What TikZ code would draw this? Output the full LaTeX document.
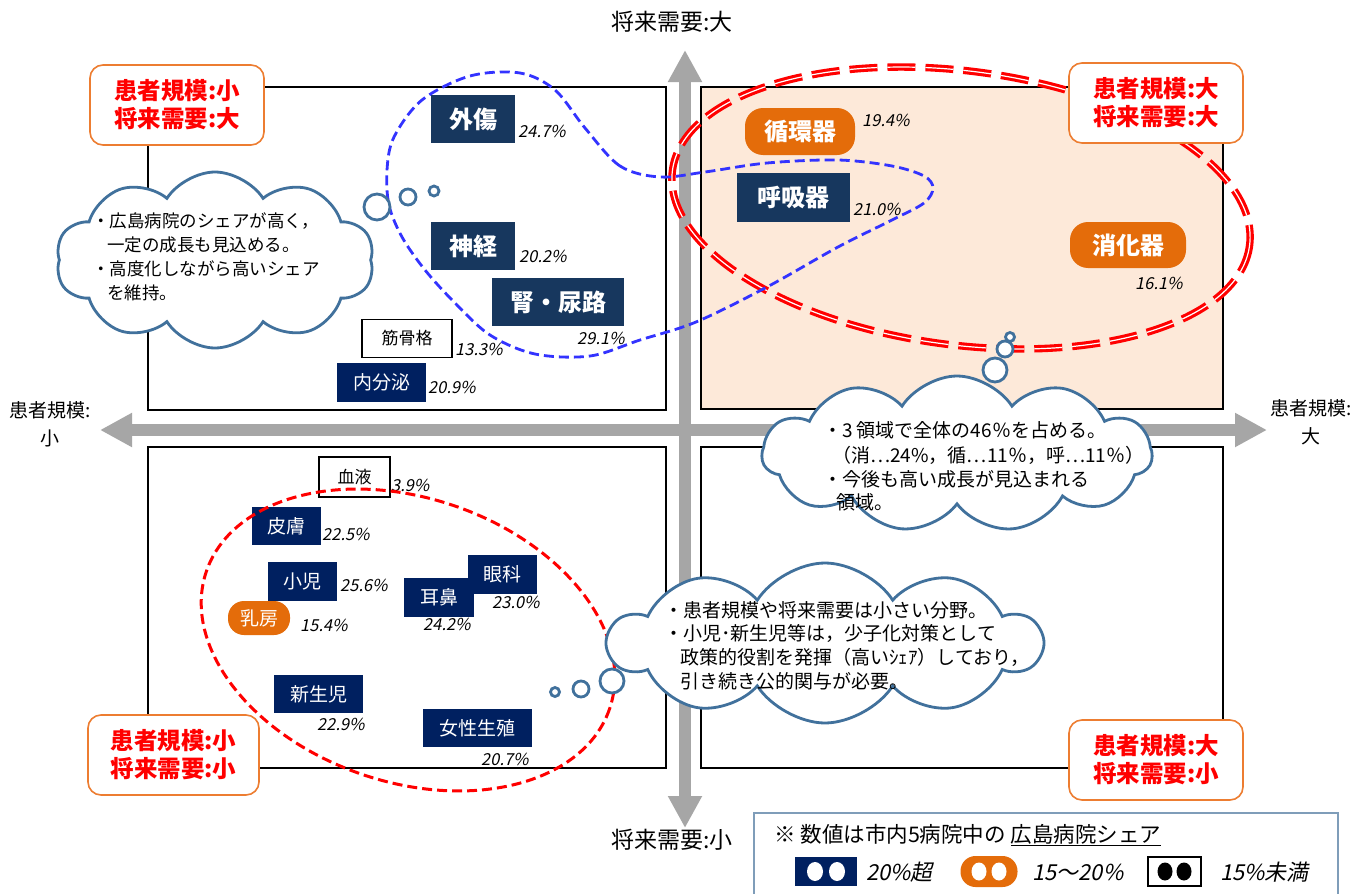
\documentclass[tikz,border=0pt]{standalone}
\usepackage{fontspec}
\setmainfont{Noto Sans CJK JP}
\newfontfamily\slantfont{Noto Sans CJK JP}[FakeSlant=0.2]
\usetikzlibrary{shapes.symbols,arrows.meta}
\definecolor{navyA}{RGB}{23,55,94}
\definecolor{navyB}{RGB}{0,32,96}
\definecolor{orgA}{RGB}{228,108,10}
\definecolor{orgB}{RGB}{237,125,49}
\definecolor{peach}{RGB}{253,233,217}
\definecolor{cloudc}{RGB}{65,113,156}
\definecolor{axisg}{RGB}{166,166,166}
\definecolor{blued}{RGB}{51,51,255}
\definecolor{legb}{RGB}{127,157,185}
\tikzset{
 quad/.style={draw=black,line width=1.6pt},
 cornerbox/.style={draw=orgB,line width=1.6pt,rounded corners=13pt,fill=white,text=red,font=\fontsize{23.5}{28}\selectfont\bfseries,align=center,minimum width=174,minimum height=80,inner sep=0},
 bigbox/.style={fill=navyA,text=white,font=\fontsize{24}{28}\selectfont\bfseries,inner sep=0},
 orgbox/.style={fill=orgA,text=white,font=\fontsize{24}{28}\selectfont\bfseries,inner sep=0,rounded corners=18pt},
 orgsmall/.style={fill=orgA,text=white,font=\fontsize{19}{22}\selectfont,inner sep=0,rounded corners=16pt},
 smallbox/.style={fill=navyB,text=white,font=\fontsize{19}{22}\selectfont,inner sep=0},
 whitebox/.style={draw=black,line width=1.3pt,fill=white,text=black,font=\fontsize{17}{20}\selectfont,inner sep=0},
 pct/.style={font=\slantfont\fontsize{16.5}{18}\selectfont,inner sep=0,anchor=west},
 axisarrow/.style={draw=axisg,line width=12pt,{Triangle[width=32pt,length=32pt]}-{Triangle[width=32pt,length=32pt]}},
 axislbl/.style={font=\fontsize{19}{28}\selectfont,align=center,inner sep=0},
 axislblv/.style={font=\fontsize{23}{28}\selectfont,inner sep=0},
 cloudst/.style={cloud,draw=cloudc,line width=2.8pt,fill=white,cloud puffs=10,cloud puff arc=115,cloud ignores aspect,inner sep=0},
 bubble/.style={circle,draw=cloudc,line width=2.8pt,fill=white,inner sep=0},
 cltxt/.style={font=\fontsize{17.5}{24}\selectfont,inner sep=0,anchor=west},
 cltxtb/.style={font=\fontsize{19}{24}\selectfont,inner sep=0,anchor=west},
 redd/.style={draw=red,line width=3.1pt,double=white,double distance=1.2pt,dash pattern=on 28pt off 10pt},
 redb/.style={draw=red,line width=3pt,dash pattern=on 10pt off 5pt},
 bluep/.style={draw=blued,line width=2.8pt,dash pattern=on 10pt off 5pt},
 legtxt/.style={font=\fontsize{21.5}{24}\selectfont,inner sep=0,anchor=west},
 legpct/.style={font=\slantfont\fontsize{22}{24}\selectfont,inner sep=0,anchor=west}
}
\begin{document}
\begin{tikzpicture}[x=1pt,y=-1pt]
\useasboundingbox (0,0) rectangle (1363,894);
\fill[white] (0,0) rectangle (1363,894);
% quadrants
\fill[peach] (701,87) rectangle (1223,409);
\draw[quad] (148,87) rectangle (666,410);
\draw[quad] (701,87) rectangle (1223,409);
\draw[quad] (148,447) rectangle (666,768);
\draw[quad] (701,447) rectangle (1223,768);
% axes
\coordinate (vT) at (685,50);
\coordinate (vB) at (685,828);
\coordinate (hL) at (100,430);
\coordinate (hR) at (1267,430);
\draw[axisarrow] (vB) -- (vT);
\draw[axisarrow] (hL) -- (hR);
% TL items
\node[bigbox,minimum width=84,minimum height=48] (gaisho) at (473,119) {外傷};
\node[pct] (gaishoP) at (518,131) {24.7\%};
\node[bigbox,minimum width=84,minimum height=48] (shinkei) at (473,246) {神経};
\node[pct] (shinkeiP) at (519,256) {20.2\%};
\node[bigbox,minimum width=132,minimum height=48] (jin) at (558,302) {腎・尿路};
\node[pct] (jinP) at (577,338) {29.1\%};
\node[whitebox,minimum width=90,minimum height=38] (kin) at (407,338.5) {筋骨格};
\node[pct] (kinP) at (455,349) {13.3\%};
\node[smallbox,minimum width=89,minimum height=39] (naibun) at (381.5,382.5) {内分泌};
\node[pct] (naibunP) at (428,387) {20.9\%};
% TR items
\node[orgbox,minimum width=110,minimum height=47] (junkan) at (800,131.5) {循環器};
\node[pct] (junkanP) at (862,120) {19.4\%};
\node[bigbox,minimum width=113,minimum height=49] (kokyu) at (793.5,197.5) {呼吸器};
\node[pct] (kokyuP) at (853,209) {21.0\%};
\node[orgbox,minimum width=116,minimum height=46] (shoka) at (1128,245) {消化器};
\node[pct] (shokaP) at (1135,283) {16.1\%};
% BL items
\node[whitebox,minimum width=71,minimum height=40] (ketsu) at (354.5,477) {血液};
\node[pct] (ketsuP) at (391,485) {3.9\%};
\node[smallbox,minimum width=69,minimum height=38] (hifu) at (286.5,526) {皮膚};
\node[pct] (hifuP) at (322,534) {22.5\%};
\node[smallbox,minimum width=69,minimum height=39] (shoni) at (302.5,581.5) {小児};
\node[pct] (shoniP) at (340,585) {25.6\%};
\node[orgsmall,minimum width=62,minimum height=34] (nyubo) at (259,618) {乳房};
\node[pct] (nyuboP) at (300,625) {15.4\%};
\node[smallbox,minimum width=70,minimum height=39] (jibi) at (439,597.5) {耳鼻};
\node[smallbox,minimum width=69,minimum height=39] (ganka) at (502.5,574.5) {眼科};
\node[pct] (jibiP) at (423,624) {24.2\%};
\node[pct] (gankaP) at (492,602) {23.0\%};
\node[smallbox,minimum width=89,minimum height=38] (shinsei) at (318.5,694) {新生児};
\node[pct] (shinseiP) at (317,724) {22.9\%};
\node[smallbox,minimum width=109,minimum height=38] (josei) at (477.5,728) {女性生殖};
\node[pct] (joseiP) at (481,759) {20.7\%};
% ellipses and blue outline
\draw[redb,rotate around={-18.8:(408,640)}] (408,640) ellipse [x radius=213,y radius=142];
\draw[redd,rotate around={-7.4:(961,208)}] (961,208) ellipse [x radius=291,y radius=137];
\draw[bluep] plot[smooth cycle,tension=0.55] coordinates {(660,177) (620,166) (585,128) (555,90) (520,73) (470,76) (422,100) (394,137) (387,170) (389,205) (402,237) (425,270) (455,303) (490,335) (535,354) (590,356) (640,340) (696,322) (767,287) (838,247) (892,220) (924,203) (933,188) (924,176) (892,166) (838,160) (767,163) (705,172)};
% corner labels
\node[cornerbox] (cTL) at (177,105) {患者規模:小\\将来需要:大};
\node[cornerbox] (cTR) at (1156,103) {患者規模:大\\将来需要:大};
\node[cornerbox,minimum width=171] (cBL) at (173.5,755) {患者規模:小\\将来需要:小};
\node[cornerbox] (cBR) at (1156,760) {患者規模:大\\将来需要:小};
% left cloud
\node[cloudst,minimum width=318,minimum height=176] (cloudL) at (215,260) {};
\node[bubble,minimum size=26] (bL1) at (377,207) {};
\node[bubble,minimum size=16] (bL2) at (408,197) {};
\node[bubble,minimum size=10] (bL3) at (434,191) {};
\node[cltxt] (tL1) at (92,221) {・広島病院のシェアが高く，};
\node[cltxt] (tL2) at (107,245) {一定の成長も見込める。};
\node[cltxt] (tL3) at (92,269) {・高度化しながら高いシェア};
\node[cltxt] (tL4) at (107,293) {を維持。};
% right cloud
\node[cloudst,cloud puffs=11,shape border rotate=28,minimum width=390,minimum height=156] (cloudR) at (957,454) {};
\node[bubble,minimum size=24] (bR1) at (995,370) {};
\node[bubble,minimum size=16] (bR2) at (1005,349) {};
\node[bubble,minimum size=9] (bR3) at (1010,337) {};
\node[cltxtb] (tR1) at (823,430) {・3 領域で全体の46％を占める。};
\node[cltxtb] (tR2) at (832,455) {（消…24\%，循…11％，呼…11％）};
\node[cltxtb] (tR3) at (823,479) {・今後も高い成長が見込まれる};
\node[cltxtb] (tR4) at (836,502) {領域。};
% bottom cloud
\node[cloudst,minimum width=432,minimum height=160] (cloudB) at (825,643) {};
\node[bubble,minimum size=24] (bB1) at (612,681) {};
\node[bubble,minimum size=16] (bB2) at (581,689) {};
\node[bubble,minimum size=9] (bB3) at (555,692) {};
\node[cltxtb] (tB1) at (664,610) {・患者規模や将来需要は小さい分野。};
\node[cltxtb] (tB2) at (664,633) {・小児･新生児等は，少子化対策として};
\node[cltxtb] (tB3) at (680,657) {政策的役割を発揮（高いｼｪｱ）しており，};
\node[cltxtb] (tB4) at (680,681) {引き続き公的関与が必要。};
% axis labels
\node[axislblv] (axT) at (672,22) {将来需要:大};
\node[axislblv] (axB) at (672,840) {将来需要:小};
\node[axislbl] (axL) at (50,424) {患者規模:\\小};
\node[axislbl] (axR) at (1311,422) {患者規模:\\大};
% legend
\draw[draw=legb,line width=1.6pt,fill=white] (754,813) rectangle (1338,900);
\node[legtxt] (leg1) at (774,835) {※ 数値は市内5病院中の \underline{広島病院シェア}};
\node[fill=navyB,minimum width=62,minimum height=29,inner sep=0] (legN) at (826,871.5) {};
\fill[white] (815,871.5) ellipse [x radius=8,y radius=9.5];
\fill[white] (837,871.5) ellipse [x radius=8,y radius=9.5];
\node[legpct] (legNt) at (866,872) {20\%超};
\node[fill=orgA,rounded corners=15pt,minimum width=57,minimum height=31,inner sep=0] (legO) at (989,871.5) {};
\fill[white] (979,871.5) ellipse [x radius=7.5,y radius=9];
\fill[white] (999,871.5) ellipse [x radius=7.5,y radius=9];
\node[legpct] (legOt) at (1032,872) {15～20\%};
\node[draw=black,line width=1.3pt,fill=white,minimum width=53,minimum height=29,inner sep=0] (legW) at (1174.5,871.5) {};
\fill[black] (1165,871.5) ellipse [x radius=7.5,y radius=9];
\fill[black] (1184,871.5) ellipse [x radius=7.5,y radius=9];
\node[legpct] (legWt) at (1220,872) {15\%未満};
\end{tikzpicture}
\end{document}
